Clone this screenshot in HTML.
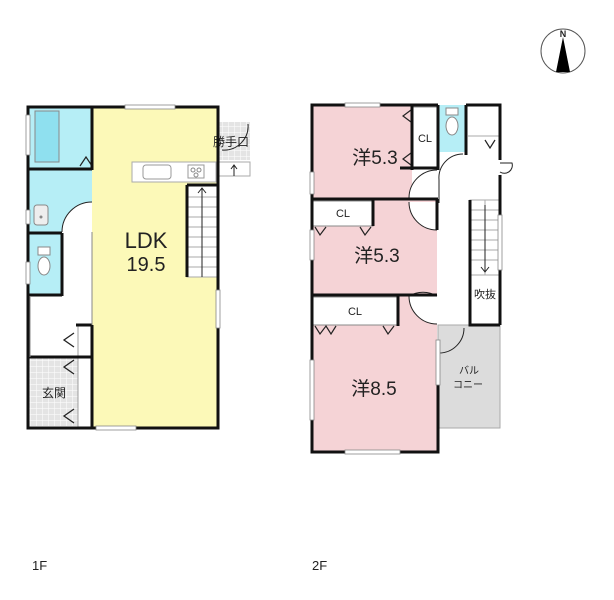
<!DOCTYPE html>
<html><head><meta charset="utf-8"><style>
body{margin:0;background:#fff}
svg{display:block}
text{font-family:"Liberation Sans","Noto Sans CJK JP",sans-serif;fill:#222}
</style></head><body>
<svg width="614" height="600" viewBox="0 0 614 600" xmlns="http://www.w3.org/2000/svg">
<defs>
<pattern id="chk" width="6" height="6" patternUnits="userSpaceOnUse">
<rect width="6" height="6" fill="#e4e4e4"/><path d="M0 0H6M0 0V6" stroke="#fff" stroke-width="1"/>
</pattern>
</defs>
<!-- ===== 1F ===== -->
<rect x="92" y="107" width="126" height="321" fill="#fcf9b8"/>
<rect x="28" y="107" width="64" height="61" fill="#b6eef6"/>
<rect x="28" y="170" width="64" height="62" fill="#b6eef6"/>
<rect x="28" y="234" width="34" height="61" fill="#b6eef6"/>
<rect x="28" y="357" width="50" height="71" fill="url(#chk)"/>
<rect x="218" y="122" width="32" height="38" fill="url(#chk)"/>
<!-- bath tub -->
<rect x="35" y="111" width="24" height="51" fill="#8fe0ef" stroke="#888" stroke-width="1"/>
<path d="M80 166 L86 157 L92 166" fill="none" stroke="#222" stroke-width="1.2"/>
<!-- sink -->
<rect x="34" y="205" width="14" height="20" rx="3" fill="#eee" stroke="#888"/>
<circle cx="41" cy="217" r="1.5" fill="#888"/>
<!-- washroom door arc -->
<path d="M92 232 L92 202 A30 30 0 0 0 62 232 Z" fill="#fff" stroke="none"/>
<path d="M92 202 A30 30 0 0 0 62 232" fill="none" stroke="#222"/>
<!-- toilet -->
<ellipse cx="44" cy="266" rx="6" ry="9" fill="#fff" stroke="#888"/>
<rect x="38" y="247" width="12" height="8" fill="#fff" stroke="#888"/>
<!-- hall/shoe cabinet -->
<rect x="78" y="325" width="14" height="103" fill="#fff" stroke="#888" stroke-width="0.8"/>
<path d="M74 333 L64 340 L74 347 M74 360 L64 367 L74 374 M74 409 L64 416 L74 423" fill="none" stroke="#222" stroke-width="1.3"/>
<text x="42" y="397" font-size="12">玄関</text>
<!-- kitchen counter -->
<rect x="132" y="162" width="84" height="20" fill="#fff" stroke="#aaa"/>
<rect x="143" y="165" width="28" height="14" rx="3" fill="#fff" stroke="#999"/>
<rect x="188" y="165" width="16" height="13" fill="#fff" stroke="#999"/>
<circle cx="193" cy="170" r="2" fill="none" stroke="#888"/><circle cx="199" cy="170" r="2" fill="none" stroke="#888"/><circle cx="196" cy="175" r="2" fill="none" stroke="#888"/>
<!-- stairs 1F -->
<rect x="187" y="185" width="30" height="92" fill="#fff" stroke="#aaa"/>
<g stroke="#aaa">
<line x1="187" y1="197" x2="217" y2="197"/><line x1="187" y1="207" x2="217" y2="207"/><line x1="187" y1="217" x2="217" y2="217"/><line x1="187" y1="227" x2="217" y2="227"/><line x1="187" y1="237" x2="217" y2="237"/><line x1="187" y1="247" x2="217" y2="247"/><line x1="187" y1="257" x2="217" y2="257"/><line x1="187" y1="267" x2="217" y2="267"/>
</g>
<path d="M202 277 V188 M198 193 L202 188 L206 193" fill="none" stroke="#222"/>
<rect x="218" y="162" width="32" height="14" fill="#fff" stroke="#aaa"/>
<path d="M234 176 V165 M231 169 L234 165 L237 169" fill="none" stroke="#222"/>
<path d="M248 124 A24 24 0 0 1 222 150" fill="none" stroke="#222"/>
<text x="213" y="146" font-size="12">勝手口</text>
<text x="146" y="248" font-size="22" text-anchor="middle">LDK</text>
<text x="146" y="271" font-size="20" text-anchor="middle">19.5</text>
<!-- 1F walls -->
<g stroke="#111" stroke-width="3" fill="none">
<rect x="28" y="107" width="190" height="321"/>
<line x1="92" y1="107" x2="92" y2="170"/>
<line x1="28" y1="169" x2="92" y2="169"/>
<line x1="28" y1="233" x2="62" y2="233"/>
<line x1="62" y1="233" x2="62" y2="296"/>
<line x1="28" y1="295" x2="62" y2="295"/>
<line x1="76" y1="325" x2="92" y2="325"/>
<line x1="92" y1="325" x2="92" y2="428"/>
<line x1="28" y1="357" x2="92" y2="357"/>
<line x1="187" y1="185" x2="187" y2="277"/>
<line x1="187" y1="185" x2="218" y2="185"/>
</g>
<g stroke="#888" stroke-width="1">
<line x1="92" y1="232" x2="92" y2="325"/>
<line x1="30" y1="296" x2="30" y2="357"/>
</g>
<g fill="#fff" stroke="#888" stroke-width="0.8">
<rect x="125" y="105" width="50" height="4"/><rect x="96" y="426" width="40" height="4"/>
<rect x="216" y="290" width="4" height="38"/><rect x="26" y="115" width="4" height="40"/>
<rect x="26" y="210" width="4" height="14"/><rect x="26" y="262" width="4" height="22"/>
</g>
<!-- ===== 2F ===== -->
<rect x="312" y="105" width="100" height="93" fill="#f5d3d6"/>
<rect x="312" y="200" width="125" height="94" fill="#f5d3d6"/>
<rect x="312" y="296" width="125" height="156" fill="#f5d3d6"/>
<rect x="439" y="105" width="27" height="47" fill="#b6eef6"/>
<rect x="438" y="325" width="62" height="103" fill="#dcdcdc" stroke="#aaa"/>
<!-- closets -->
<rect x="413" y="107" width="24" height="62" fill="#fff" stroke="#888"/>
<text x="425" y="142" font-size="11" text-anchor="middle">CL</text>
<path d="M411 110 L403 116 L411 122 M411 153 L403 159 L411 165" fill="none" stroke="#222" stroke-width="1.2"/>
<rect x="313" y="201" width="60" height="25" fill="#fff" stroke="#888"/>
<text x="343" y="217" font-size="11" text-anchor="middle">CL</text>
<path d="M315 227 L320 235 L326 227 M360 227 L365 235 L371 227" fill="none" stroke="#222" stroke-width="1.2"/>
<rect x="313" y="297" width="85" height="28" fill="#fff" stroke="#888"/>
<text x="355" y="315" font-size="11" text-anchor="middle">CL</text>
<path d="M315 326 L320 334 L326 326 L331 334 L336 326 M383 326 L388 334 L394 326" fill="none" stroke="#222" stroke-width="1.2"/>
<!-- toilet 2F -->
<ellipse cx="452" cy="126" rx="6" ry="9" fill="#fff" stroke="#888"/>
<rect x="446" y="108" width="12" height="7" fill="#fff" stroke="#888"/>
<!-- doors -->
<path d="M437 198 L437 170 A28 28 0 0 0 409 198 Z" fill="#fff" stroke="none"/>
<path d="M437 170 A28 28 0 0 0 409 198" fill="none" stroke="#222"/>
<path d="M437 202 L437 230 A28 28 0 0 1 409 202 Z" fill="#fff" stroke="none"/>
<path d="M437 230 A28 28 0 0 1 409 202" fill="none" stroke="#222"/>
<path d="M439 180 V203 M439 180 A24 24 0 0 1 463 154" fill="none" stroke="#222"/>
<path d="M437 296 L409 296 A28 28 0 0 0 437 324 Z" fill="#fff" stroke="none"/>
<path d="M437 296 A28 28 0 0 0 409 296 A28 28 0 0 0 437 324" fill="none" stroke="#222"/>
<path d="M439 353 A25 25 0 0 0 464 328" fill="none" stroke="#222"/>
<path d="M500 163 H512 A8 8 0 0 1 500 172" fill="#fff" stroke="#222"/>
<!-- stairs 2F -->
<rect x="470" y="200" width="30" height="75" fill="#fff" stroke="#aaa"/>
<g stroke="#aaa"><line x1="470" y1="210" x2="500" y2="210"/><line x1="470" y1="220" x2="500" y2="220"/><line x1="470" y1="230" x2="500" y2="230"/><line x1="470" y1="240" x2="500" y2="240"/><line x1="470" y1="250" x2="500" y2="250"/><line x1="470" y1="260" x2="500" y2="260"/><line x1="485" y1="200" x2="485" y2="275"/></g>
<path d="M485 205 V272 M481 267 L485 272 L489 267" fill="none" stroke="#222"/>
<line x1="468" y1="136" x2="500" y2="136" stroke="#aaa"/>
<path d="M485 140 L490 148 L495 140" fill="none" stroke="#222" stroke-width="1.2"/>
<text x="485" y="298" font-size="11" text-anchor="middle">吹抜</text>
<text x="469" y="374" font-size="10" text-anchor="middle">バル</text>
<text x="468" y="388" font-size="10" text-anchor="middle">コニー</text>
<text x="375" y="164" font-size="19" text-anchor="middle">洋5.3</text>
<text x="377" y="262" font-size="19" text-anchor="middle">洋5.3</text>
<text x="374" y="395" font-size="19" text-anchor="middle">洋8.5</text>
<!-- 2F walls -->
<g stroke="#111" stroke-width="3" fill="none">
<path d="M438 105 H312 V452 H438 V355"/>
<line x1="438" y1="105" x2="438" y2="170"/>
<line x1="412" y1="105" x2="412" y2="170"/>
<line x1="400" y1="168" x2="438" y2="168"/>
<line x1="312" y1="199" x2="438" y2="199"/>
<line x1="373" y1="199" x2="373" y2="226"/>
<line x1="437" y1="199" x2="437" y2="230"/>
<line x1="312" y1="295" x2="437" y2="295"/>
<line x1="398" y1="295" x2="398" y2="326"/>
<line x1="466" y1="105" x2="466" y2="155"/>
<path d="M466 105 H500 V160"/>
<line x1="500" y1="175" x2="500" y2="325"/>
<path d="M470 200 V325 H500"/>
</g>
<g fill="#fff" stroke="#888" stroke-width="0.8">
<rect x="345" y="103" width="35" height="4"/><rect x="345" y="450" width="55" height="4"/>
<rect x="310" y="172" width="4" height="22"/><rect x="310" y="230" width="4" height="30"/>
<rect x="310" y="360" width="4" height="60"/><rect x="436" y="340" width="4" height="45"/>
<rect x="498" y="215" width="4" height="55"/>
</g>
<!-- compass -->
<circle cx="563" cy="51" r="22" fill="#fff" stroke="#555"/>
<path d="M563 37 L570 72 L556 72 Z" fill="#000"/>
<text x="563" y="37" font-size="9" font-weight="bold" text-anchor="middle">N</text>
<text x="32" y="570" font-size="13">1F</text>
<text x="312" y="570" font-size="13">2F</text>
</svg>
</body></html>
